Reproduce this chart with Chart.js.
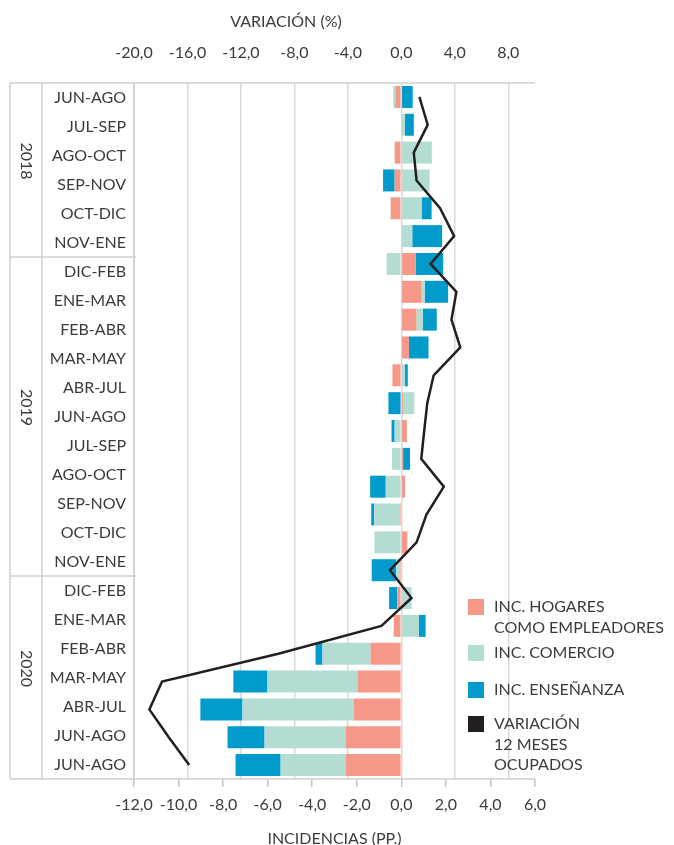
<!DOCTYPE html>
<html>
<head>
<meta charset="utf-8">
<script src="https://cdn.jsdelivr.net/npm/chart.js@4.4.1/dist/chart.umd.min.js"></script>
<style>
  body { margin: 0; background: #fff; }
</style>
</head>
<body>
<canvas id="chart" width="674" height="845"></canvas>
<script>
// 25 trimestres móviles (las barras) y las 24 etiquetas que se ven a la izquierda
const periods = ['JUN-AGO 18', 'JUL-SEP 18', 'AGO-OCT 18', 'SEP-NOV 18', 'OCT-DIC 18', 'NOV-ENE 19',
  'DIC-FEB 19', 'ENE-MAR 19', 'FEB-ABR 19', 'MAR-MAY 19', 'ABR-JUN 19', 'MAY-JUL 19', 'JUN-AGO 19',
  'JUL-SEP 19', 'AGO-OCT 19', 'SEP-NOV 19', 'OCT-DIC 19', 'NOV-ENE 20',
  'DIC-FEB 20', 'ENE-MAR 20', 'FEB-ABR 20', 'MAR-MAY 20', 'ABR-JUN 20', 'MAY-JUL 20', 'JUN-AGO 20'];
const rowLabels = ['JUN-AGO', 'JUL-SEP', 'AGO-OCT', 'SEP-NOV', 'OCT-DIC', 'NOV-ENE',
  'DIC-FEB', 'ENE-MAR', 'FEB-ABR', 'MAR-MAY', 'ABR-JUL', 'JUN-AGO', 'JUL-SEP', 'AGO-OCT', 'SEP-NOV', 'OCT-DIC', 'NOV-ENE',
  'DIC-FEB', 'ENE-MAR', 'FEB-ABR', 'MAR-MAY', 'ABR-JUL', 'JUN-AGO', 'JUN-AGO'];
const years = ['2018', '2019', '2020'];
const yearRows = [6, 11, 7];

const hogares = [-0.27, 0, -0.30, -0.30, -0.48, 0, 0.64, 0.91, 0.68, 0.34, -0.40, 0.08, 0.25,
  0.08, 0.17, -0.07, 0.27, -0.07, -0.18, -0.34, -1.38, -1.96, -2.14, -2.50, -2.50];
const comercio = [-0.09, 0.16, 1.37, 1.27, 0.91, 0.49, -0.66, 0.14, 0.28, 0, 0.16, 0.50, -0.30,
  -0.42, -0.70, -1.15, -1.21, -0.16, 0.46, 0.78, -2.16, -4.05, -4.99, -3.64, -2.92];
const ensenanza = [0.51, 0.40, 0, -0.52, 0.45, 1.34, 1.24, 1.05, 0.63, 0.88, 0.13, -0.58, -0.14,
  0.31, -0.70, -0.13, 0, -1.10, -0.37, 0.31, -0.31, -1.53, -1.89, -1.66, -2.02];
const variacion = [1.35, 1.97, 0.93, 1.14, 2.9, 3.95, 2.19, 4.12, 3.75, 4.41, 2.42, 1.94, 1.71,
  1.49, 3.18, 1.88, 1.14, -0.85, 0.76, -1.49, -9.2, -17.9, -18.85, -17.4, -15.87];

const incTicks = [-12, -10, -8, -6, -4, -2, 0, 2, 4, 6];
const varTicks = [-20, -16, -12, -8, -4, 0, 4, 8];

const textColor = '#3b3b3b';
const lineGray = '#cfcfcf';
Chart.defaults.font.family = 'Lato, sans-serif';
Chart.defaults.font.size = 16;
Chart.defaults.color = textColor;

const fmt = v => v.toFixed(1).replace('.', ',');

// marco de la tabla de la izquierda y etiquetas de año
const framePlugin = {
  id: 'frame',
  beforeDatasetsDraw(chart) {
    const { ctx, chartArea: a } = chart;
    const yl = chart.scales.yl;
    const band = (a.bottom - a.top) / rowLabels.length;
    const x0 = yl.left, x1 = yl.left + 32;
    ctx.save();
    ctx.strokeStyle = lineGray;
    ctx.lineWidth = 1.5;
    ctx.beginPath();
    ctx.moveTo(x0, a.top); ctx.lineTo(a.right, a.top);
    ctx.moveTo(x0, a.bottom); ctx.lineTo(a.right, a.bottom);
    [x0, x1, a.left].forEach(x => { ctx.moveTo(x, a.top); ctx.lineTo(x, a.bottom); });
    let row = 0;
    const centers = [];
    yearRows.forEach((n, i) => {
      const top = a.top + row * band;
      row += n;
      const bottom = a.top + row * band;
      centers.push((top + bottom) / 2);
      if (i < yearRows.length - 1) {
        ctx.moveTo(x0, bottom); ctx.lineTo(a.left + 2, bottom);
      }
    });
    ctx.stroke();

    ctx.fillStyle = textColor;
    ctx.font = '16px Lato, sans-serif';
    ctx.textAlign = 'center';
    ctx.textBaseline = 'middle';
    years.forEach((y, i) => {
      ctx.save();
      ctx.translate((x0 + x1) / 2, centers[i] - 9);
      ctx.rotate(Math.PI / 2);
      ctx.fillText(y, 0, 0);
      ctx.restore();
    });

    ctx.fillText('VARIACIÓN (%)', a.left + 152, 22);
    ctx.restore();
  }
};

const legendPlugin = {
  id: 'sideLegend',
  afterDatasetsDraw(chart) {
    const { ctx } = chart;
    const rows = [607, 653, 690, 724];
    ctx.save();
    ctx.font = '16px Lato, sans-serif';
    ctx.textBaseline = 'middle';
    ctx.textAlign = 'left';
    chart.data.datasets.forEach((ds, i) => {
      const y = rows[i];
      ctx.fillStyle = ds.legendColor;
      ctx.fillRect(468, y - 8, 16, 16);
      ctx.fillStyle = textColor;
      ds.label.split('\n').forEach((t, j) => ctx.fillText(t, 494, y + j * 20.5));
    });
    ctx.restore();
  }
};

const barOpts = { xAxisID: 'x', yAxisID: 'y', barPercentage: 0.79, categoryPercentage: 1, order: 1 };

new Chart(document.getElementById('chart'), {
  type: 'bar',
  data: {
    labels: periods,
    datasets: [
      { ...barOpts, label: 'INC. HOGARES\nCOMO EMPLEADORES', data: hogares, backgroundColor: '#f59888', legendColor: '#f59888' },
      { ...barOpts, label: 'INC. COMERCIO', data: comercio, backgroundColor: '#b3ddd3', legendColor: '#b3ddd3' },
      { ...barOpts, label: 'INC. ENSEÑANZA', data: ensenanza, backgroundColor: '#009bcb', legendColor: '#009bcb' },
      { type: 'line', label: 'VARIACIÓN\n12 MESES\nOCUPADOS', data: variacion, xAxisID: 'x2', yAxisID: 'y',
        indexAxis: 'y', stack: 'linea', borderColor: '#231f20', borderWidth: 2.5, pointRadius: 0,
        tension: 0, order: 0, legendColor: '#231f20' }
    ]
  },
  options: {
    indexAxis: 'y',
    responsive: false,
    animation: false,
    layout: { padding: { left: 10, right: 139, top: 0, bottom: 0 } },
    plugins: { legend: { display: false }, tooltip: { enabled: false } },
    scales: {
      y: { type: 'category', display: false, offset: true, stacked: true },
      yl: {
        type: 'category', labels: rowLabels, position: 'left', offset: true,
        grid: { display: false, drawTicks: false }, border: { display: false },
        ticks: { padding: 8, color: textColor, autoSkip: false },
        afterFit(s) { s.width = 124; }
      },
      x: {
        type: 'linear', position: 'bottom', min: -12, max: 6, stacked: true,
        afterBuildTicks(s) { s.ticks = incTicks.map(v => ({ value: v })); },
        ticks: { callback: v => fmt(v), padding: 8, color: textColor, maxRotation: 0 },
        grid: { drawOnChartArea: false, tickLength: 8, color: '#c4c4c4', lineWidth: 1.5 },
        border: { display: false },
        title: { display: true, text: 'INCIDENCIAS (PP.)', font: { size: 16, lineHeight: 1 }, padding: { top: 0, bottom: -2 }, color: textColor },
        afterFit(s) { s.height = 66; }
      },
      x2: {
        type: 'linear', position: 'top', min: -20, max: 10,
        afterBuildTicks(s) { s.ticks = varTicks.map(v => ({ value: v })); },
        ticks: { callback: v => fmt(v), padding: 21, color: textColor, maxRotation: 0 },
        grid: { color: '#d9d9d9', lineWidth: 1.5, drawTicks: false },
        border: { display: false },
        afterFit(s) { s.height = 83; }
      }
    }
  },
  plugins: [framePlugin, legendPlugin]
});
</script>
</body>
</html>
